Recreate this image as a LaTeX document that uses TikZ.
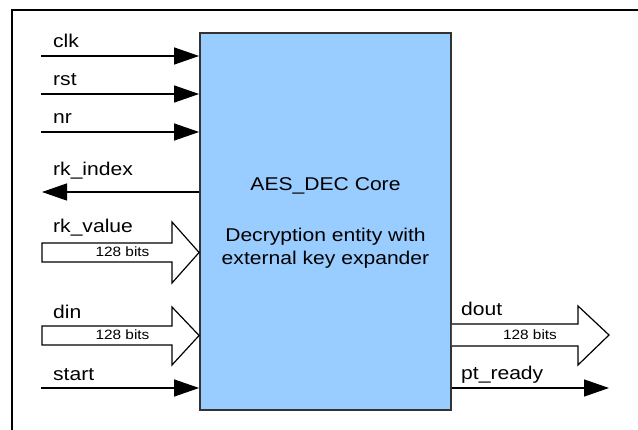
\documentclass[tikz,border=0pt]{standalone}
\usepackage{fontspec}
\setmainfont{Liberation Sans}[FakeStretch=1.14]
\usetikzlibrary{arrows.meta}
\definecolor{coreblue}{RGB}{153,204,255}
\tikzset{
  lbl/.style={anchor=base west, inner sep=0pt, font=\fontsize{18.5}{22}\selectfont},
  corelbl/.style={anchor=base, inner sep=0pt, font=\fontsize{18.5}{22}\selectfont},
  width/.style={anchor=base, inner sep=0pt, font=\fontsize{13.5}{16}\selectfont},
  sig/.style={line width=1.3pt, -{Triangle[length=25pt,width=17pt]}},
  bus/.style={line width=1.2pt, fill=white, line join=miter},
}
\begin{document}
\begin{tikzpicture}[x=1pt,y=-1pt]
\useasboundingbox (0,0) rectangle (638,430);
\clip (0,0) rectangle (638,430);
% outer frame (runs off the right and bottom edges)
\draw[line width=2pt] (12,460) -- (12,10) -- (660,10);

% the core block
\node[draw=black!80, line width=1.8pt, fill=coreblue, inner sep=0pt,
      minimum width=251pt, minimum height=377pt] (core) at (325.5,221.5) {};
\node[corelbl] (title) at (325.5,191) {AES\_DEC Core};
\node[corelbl] (desc1) at (325.5,242) {Decryption entity with};
\node[corelbl] (desc2) at (325.5,265) {external key expander};

% single-bit inputs
\coordinate (clk) at (41,56);
\coordinate (rst) at (41,94);
\coordinate (nr) at (41,132);
\coordinate (start) at (41,388);
\draw[sig] (clk) -- (clk -| core.west);
\draw[sig] (rst) -- (rst -| core.west);
\draw[sig] (nr) -- (nr -| core.west);
\draw[sig] (start) -- (start -| core.west);
\node[lbl] (clkl) at (53,48) {clk};
\node[lbl] (rstl) at (53,86) {rst};
\node[lbl] (nrl) at (53,124) {nr};
\node[lbl] (startl) at (53,381) {start};

% single-bit outputs
\coordinate (rkidx) at (42,192);
\coordinate (ptr) at (609,388);
\draw[sig] (rkidx -| core.west) -- (rkidx);
\draw[sig] (ptr -| core.east) -- (ptr);
\node[lbl] (rkidxl) at (53,176) {rk\_index};
\node[lbl] (ptrl) at (461,380) {pt\_ready};

% 128-bit buses
\coordinate (rkv) at (42,252.5);
\coordinate (din) at (42,335.5);
\coordinate (dout) at (609,335);
\draw[bus] (rkv) ++(0,-9.5) -- (172,243) -- (172,222) -- (rkv -| core.west)
  -- (172,283) -- (172,262) -- (42,262) -- cycle;
\draw[bus] (din) ++(0,-9.5) -- (172,326) -- (172,307) -- (din -| core.west)
  -- (172,365) -- (172,345) -- (42,345) -- cycle;
\draw[bus] (core.east |- 0,324) -- (578,324) -- (578,306) -- (dout)
  -- (578,365) -- (578,346) -- (core.east |- 0,346);
\node[lbl] (rkvl) at (53,233) {rk\_value};
\node[lbl] (dinl) at (53,319) {din};
\node[lbl] (doutl) at (461,316) {dout};
\node[width] (rkvw) at (122.5,257) {128 bits};
\node[width] (dinw) at (122.5,340) {128 bits};
\node[width] (doutw) at (530,340) {128 bits};
\end{tikzpicture}
\end{document}
